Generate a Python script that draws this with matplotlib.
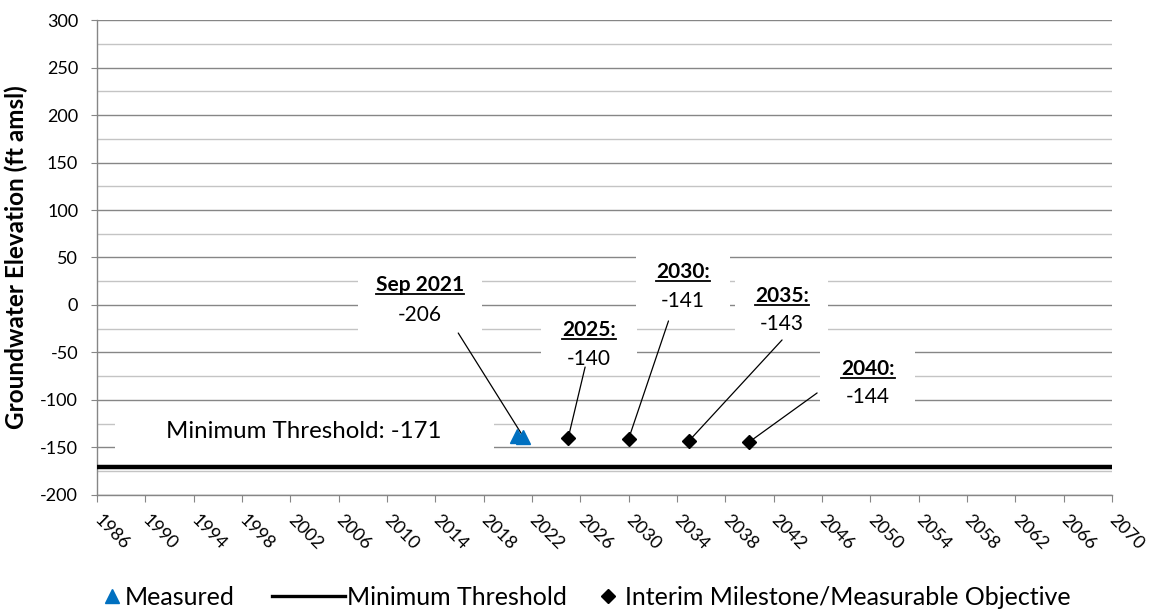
import numpy as np
import matplotlib.pyplot as plt
from matplotlib.lines import Line2D
from matplotlib.patches import Rectangle

plt.rcParams['font.family'] = ['Lato', 'DejaVu Sans']
plt.rcParams['axes.unicode_minus'] = False

# groundwater elevations (ft amsl)
MEASURED_YEARS = [2020.75, 2021.3]
MEASURED_ELEV = [-138, -139]

MILESTONE_YEARS = [2025, 2030, 2035, 2040]
MILESTONE_ELEV = [-140, -141, -143, -144]

THRESHOLD_YEARS = [1986, 2070]
MIN_THRESHOLD = -171

LATEST_NAME = 'Sep 2021'
LATEST_VALUE = -206

XTICKS = list(range(1986, 2071, 4))
YTICKS = list(range(-200, 301, 50))

# callout layout: center x, title baseline, value baseline, box (x0, x1, top, bottom), leader start
CALLOUTS = [
    (2012.73, 15.0, -16.5, (2007.6, 2017.86, 42, -37), (2015.9, -29.5)),
    (2026.74, -32.6, -63.2, (2022.75, 2030.69, -5, -70.5), (2026.4, -65.3)),
    (2034.52, 28.1, -1.8, (2030.6, 2038.38, 65, -14), (2033.3, -16.8)),
    (2042.67, 3.5, -26.3, (2038.8, 2046.5, 41, -42), (2042.7, -36.8)),
    (2049.83, -73.7, -103.5, (2045.8, 2053.7, -31.5, -116), (2045.6, -92.6)),
]

GRID_MAJOR = '#868686'
GRID_MINOR = '#c4c4c4'
BLUE = '#0070c0'

fig = plt.figure(figsize=(11.5, 6.12), dpi=100)
ax = fig.add_axes([0.0843, 0.1912, 0.8826, 0.7761])

ax.set_xlim(1986, 2070)
ax.set_ylim(-200, 300)
ax.set_xticks(XTICKS)
ax.set_xticklabels([str(y) for y in XTICKS], rotation=-45, ha='left', va='center',
                   rotation_mode='anchor', fontsize=13)
ax.set_yticks(YTICKS)
ax.set_yticks(np.arange(-175, 300, 50), minor=True)
ax.tick_params(axis='y', which='minor', length=0)
ax.tick_params(axis='both', which='major', color=GRID_MAJOR, labelsize=13)
ax.tick_params(axis='x', length=5, pad=11)
ax.tick_params(axis='y', length=4.5, pad=9)
ax.set_axisbelow(True)
ax.grid(axis='y', which='major', color=GRID_MAJOR, lw=1.0)
ax.grid(axis='y', which='minor', color=GRID_MINOR, lw=1.0)

for side in ['top', 'right']:
    ax.spines[side].set_visible(False)
for side in ['left', 'bottom']:
    ax.spines[side].set_color(GRID_MAJOR)
    ax.spines[side].set_linewidth(1.0)

ax.set_ylabel('Groundwater Elevation (ft amsl)', fontsize=17.5, fontweight='bold')
ax.yaxis.set_label_coords(-0.068, 0.5)

# minimum threshold line and its label
ax.plot(THRESHOLD_YEARS, [MIN_THRESHOLD] * len(THRESHOLD_YEARS), color='black', lw=3.2,
        zorder=3, solid_capstyle='butt', clip_on=False)
ax.add_patch(Rectangle((1987.5, -161), 2018.86 - 1987.5, 56, facecolor='white',
                       edgecolor='none', zorder=1.5))
ax.text(2003.1, -140.3, f'Minimum Threshold: {MIN_THRESHOLD}', ha='center', va='baseline',
        fontsize=17.3, zorder=5)

# callout boxes with leader lines
titles = [LATEST_NAME] + [f'{y}:' for y in MILESTONE_YEARS]
values = [LATEST_VALUE] + MILESTONE_ELEV
targets = [(MEASURED_YEARS[-1], MEASURED_ELEV[-1])] + list(zip(MILESTONE_YEARS, MILESTONE_ELEV))
title_texts = []
for (cx, ty, vy, box, start), title, val, tgt in zip(CALLOUTS, titles, values, targets):
    x0, x1, top, bottom = box
    ax.add_patch(Rectangle((x0, bottom), x1 - x0, top - bottom, facecolor='white',
                           edgecolor='none', zorder=1.5))
    t = ax.text(cx, ty, title, ha='center', va='baseline', fontsize=15,
                fontweight='bold', zorder=5)
    title_texts.append(t)
    ax.text(cx, vy, str(val), ha='center', va='baseline', fontsize=15, zorder=5)
    ax.annotate('', xy=tgt, xytext=start,
                arrowprops=dict(arrowstyle='-', color='black', lw=0.9,
                                shrinkA=0, shrinkB=0), zorder=3)

ax.plot(MEASURED_YEARS, MEASURED_ELEV, linestyle='none', marker='^', ms=10.5,
        color=BLUE, zorder=4)
ax.plot(MILESTONE_YEARS, MILESTONE_ELEV, linestyle='none', marker='D', ms=7.5,
        color='black', zorder=4)

# underline the callout titles
fig.canvas.draw()
renderer = fig.canvas.get_renderer()
inv = fig.transFigure.inverted()
for t in title_texts:
    bb = t.get_window_extent(renderer)
    base = ax.transData.transform(t.get_position())[1] - 3
    (fx0, fy), (fx1, _) = inv.transform([(bb.x0, base), (bb.x1, base)])
    fig.add_artist(Line2D([fx0, fx1], [fy, fy], color='black', lw=1.3))

# legend
leg_y = 0.0245
h_meas = Line2D([], [], linestyle='none', marker='^', ms=10, color=BLUE)
h_thr = Line2D([], [], color='black', lw=2.4)
h_mil = Line2D([], [], linestyle='none', marker='D', ms=7, color='black')
for handle, label, x, hl, tp in [
    (h_meas, 'Measured', 105.75 / 1150, 0.5, 0.27),
    (h_thr, 'Minimum Threshold', 272 / 1150, 2.92, 0.08),
    (h_mil, 'Interim Milestone/Measurable Objective', 601.75 / 1150, 0.5, 0.43),
]:
    fig.legend([handle], [label], loc='center left', bbox_to_anchor=(x, leg_y),
               frameon=False, fontsize=18, handlelength=hl, handletextpad=tp,
               borderpad=0, borderaxespad=0)

fig.savefig('out.png', dpi=100)
